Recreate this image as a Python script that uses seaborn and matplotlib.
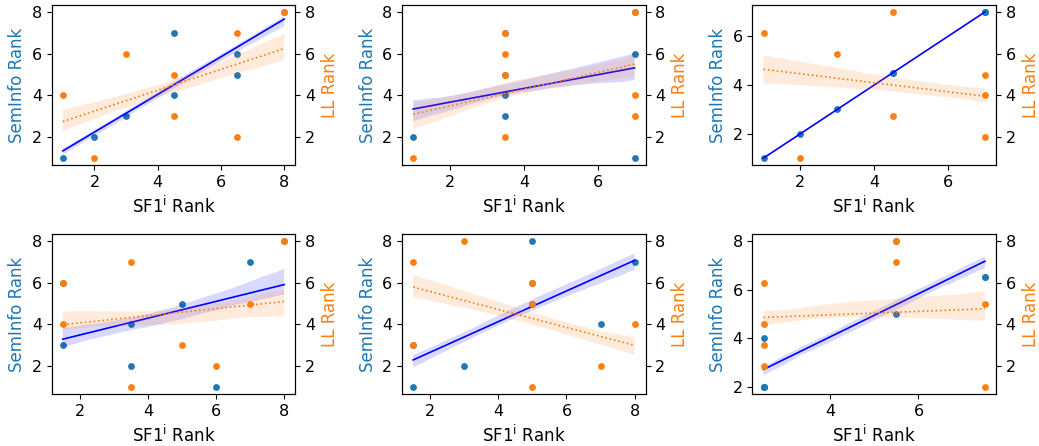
import matplotlib
matplotlib.use("Agg")
import matplotlib.pyplot as plt
import seaborn as sns
import numpy as np
import pandas as pd

# SF1^i rank (x) per panel
x1 = [1, 2, 3, 4.5, 4.5, 6.5, 6.5, 8]
x2 = [1, 3.5, 3.5, 3.5, 3.5, 7, 7, 7]
x3 = [1, 2, 3, 4.5, 4.5, 7, 7, 7]
x4 = [1.5, 1.5, 3.5, 3.5, 5, 6, 7, 8]
x5 = [1.5, 1.5, 3, 5, 5, 5, 7, 8]
x6 = [2.5, 2.5, 2.5, 2.5, 5.5, 5.5, 7.5, 7.5]

# SemInfo rank per panel
sem1 = [1, 2, 3, 7, 4, 6, 5, 8]
sem2 = [2, 4, 3, 5, 7, 6, 1, 8]
sem3 = [1, 2, 3, 4.5, 4.5, 7, 7, 7]
sem4 = [3, 6, 4, 2, 5, 1, 7, 8]
sem5 = [1, 3, 2, 8, 5, 6, 4, 7]
sem6 = [2, 2, 2, 4, 5, 8, 6.5, 6.5]

# LL rank per panel
ll1 = [4, 1, 6, 5, 3, 7, 2, 8]
ll2 = [1, 7, 6, 5, 2, 8, 4, 3]
ll3 = [7, 1, 6, 8, 3, 5, 4, 2]
ll4 = [6, 4, 7, 1, 3, 2, 5, 8]
ll5 = [7, 3, 8, 6, 5, 1, 2, 4]
ll6 = [6, 4, 3, 2, 8, 7, 5, 1]

panels = [(x1, sem1, ll1), (x2, sem2, ll2), (x3, sem3, ll3),
          (x4, sem4, ll4), (x5, sem5, ll5), (x6, sem6, ll6)]

plt.rcParams['font.size'] = 12
plt.rcParams['xtick.labelsize'] = 11.5
plt.rcParams['ytick.labelsize'] = 11.5
fig, axes = plt.subplots(2, 3, figsize=(10.39, 4.46), dpi=100)

for ax, (x, sem, ll) in zip(axes.flat, panels):
    df = pd.DataFrame({"x": x, "sem": sem, "ll": ll})
    ax2 = ax.twinx()
    sns.scatterplot(data=df, x="x", y="sem", ax=ax, color="C0", s=24, linewidth=0)
    sns.regplot(data=df, x="x", y="sem", ax=ax, scatter=False, color="blue", ci=30,
                n_boot=2000, seed=0, line_kws={"linewidth": 1.2})
    sns.scatterplot(data=df, x="x", y="ll", ax=ax2, color="C1", s=24, linewidth=0)
    sns.regplot(data=df, x="x", y="ll", ax=ax2, scatter=False, color="C1", ci=30,
                n_boot=2000, seed=0, line_kws={"linewidth": 1.2, "linestyle": ":"})
    ax.set_xlabel(r"SF1$^\mathrm{i}$ Rank")
    ax.set_ylabel("SemInfo Rank", color="C0")
    ax2.set_ylabel("LL Rank", color="C1")

fig.subplots_adjust(left=0.0498, right=0.9586, top=0.9895, bottom=0.1159,
                    wspace=0.4386, hspace=0.425)
fig.savefig("out.png", dpi=100)
